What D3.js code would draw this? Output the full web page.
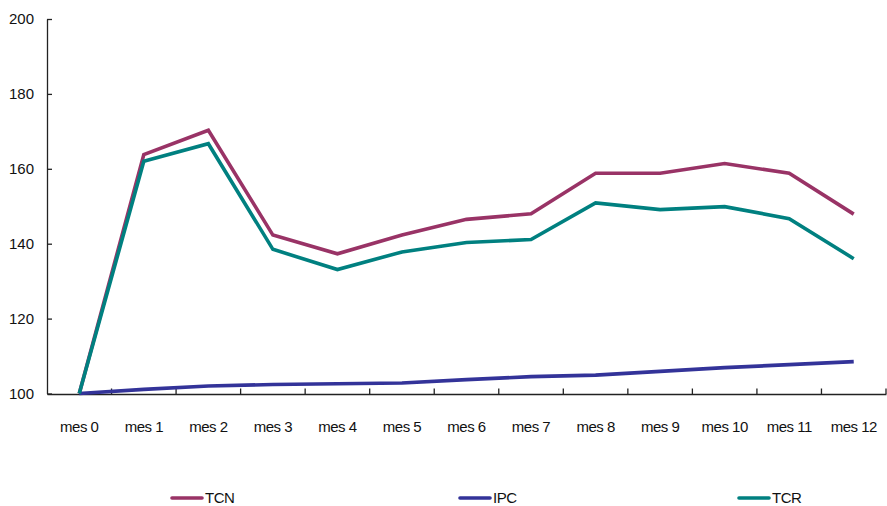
<!DOCTYPE html>
<html>
<head>
<meta charset="utf-8">
<script src="https://cdn.jsdelivr.net/npm/d3@7/dist/d3.min.js"></script>
<style>
  html, body { margin: 0; padding: 0; background: #ffffff; }
  svg { display: block; }
  text { font-family: "Liberation Sans", Arial, sans-serif; fill: #111; }
</style>
</head>
<body>
<div id="chart"></div>
<script>
// Monthly index, base mes 0 = 100
const months = ["mes 0", "mes 1", "mes 2", "mes 3", "mes 4", "mes 5", "mes 6",
                "mes 7", "mes 8", "mes 9", "mes 10", "mes 11", "mes 12"];
const tcn = [100, 163.8, 170.3, 142.3, 137.3, 142.3, 146.5, 148.0, 158.8, 158.8, 161.4, 158.8, 147.9];
const ipc = [100, 101.1, 102.0, 102.4, 102.6, 102.8, 103.7, 104.5, 104.9, 105.9, 106.9, 107.7, 108.5];
const tcr = [100, 162.0, 166.7, 138.5, 133.1, 137.8, 140.3, 141.1, 150.9, 149.1, 149.9, 146.7, 136.0];
const yTicks = [100, 120, 140, 160, 180, 200];

const seriesNames = ["TCN", "IPC", "TCR"];
const seriesValues = [tcn, ipc, tcr];
const seriesColors = ["#993366", "#333399", "#008080"];

const W = 887, H = 506;
const svg = d3.select("#chart").append("svg").attr("width", W).attr("height", H);

const x = d3.scaleBand().domain(months).range([47, 886]).padding(0);
const y = d3.scaleLinear().domain([100, 200]).range([393.5, 19]);
const cx = m => x(m) + x.bandwidth() / 2;

// Y axis: ticks point inward, labels on the left
const yAxis = d3.axisLeft(y).tickValues(yTicks).tickSizeInner(-5).tickSizeOuter(0).tickPadding(13);
const gy = svg.append("g").attr("transform", "translate(47,0)").call(yAxis);
gy.select(".domain").attr("stroke", "#222").attr("stroke-width", 1.3);
gy.selectAll(".tick line").attr("stroke", "#222").attr("stroke-width", 1.3);
gy.selectAll(".tick text").style("font-size", "15px").style("font-family", "Liberation Sans, Arial, sans-serif").attr("fill", "#111");

// X axis: category labels centered in each band
const xAxis = d3.axisBottom(x).tickSize(0).tickPadding(27);
const gx = svg.append("g").attr("transform", "translate(0,394)").call(xAxis);
gx.select(".domain").attr("stroke", "#222").attr("stroke-width", 1.3);
gx.selectAll(".tick text").style("font-size", "15px").style("letter-spacing", "-0.5px")
  .style("font-family", "Liberation Sans, Arial, sans-serif").attr("fill", "#111");

// Inward tick marks on the category boundaries
const bounds = months.slice(1).map(m => x(m)).concat([x.range()[1]]);
svg.append("g").selectAll("line").data(bounds).join("line")
  .attr("x1", d => d).attr("x2", d => d)
  .attr("y1", 394).attr("y2", 388.5)
  .attr("stroke", "#222").attr("stroke-width", 1.3);

// Series lines
const line = d3.line().x((d, i) => cx(months[i])).y(d => y(d));
svg.append("g").selectAll("path").data(seriesValues).join("path")
  .attr("d", d => line(d))
  .attr("fill", "none")
  .attr("stroke", (d, i) => seriesColors[i])
  .attr("stroke-width", 3.6)
  .attr("stroke-linejoin", "miter")
  .attr("stroke-linecap", "butt");

// Legend
const legendX = [172, 460, 739];
const lg = svg.append("g").selectAll("g").data(seriesNames).join("g")
  .attr("transform", (d, i) => `translate(${legendX[i]},498)`);
lg.append("line").attr("x1", 0).attr("x2", 30).attr("y1", 0).attr("y2", 0)
  .attr("stroke", (d, i) => seriesColors[i]).attr("stroke-width", 3.6).attr("stroke-linecap", "round");
lg.append("text").attr("x", 33).attr("y", 0).attr("dy", "0.36em")
  .style("font-size", "15px").style("letter-spacing", "-0.5px").text(d => d);
</script>
</body>
</html>
